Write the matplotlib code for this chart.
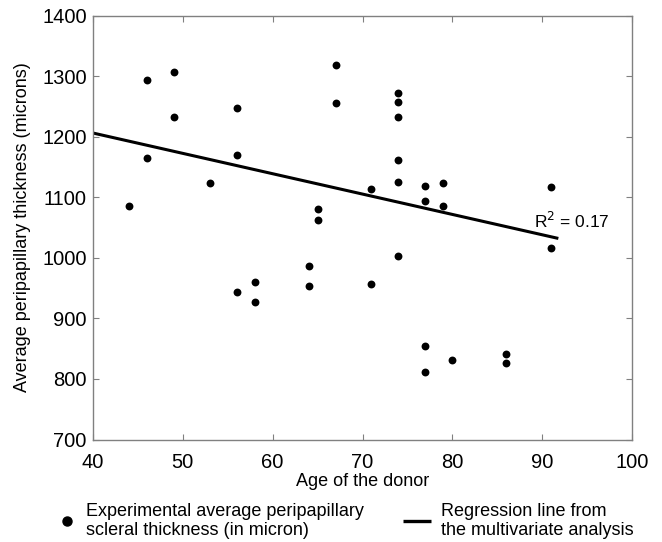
import matplotlib
matplotlib.use("Agg")
import matplotlib.pyplot as plt
from matplotlib.lines import Line2D

plt.rcParams['font.family'] = ['Liberation Sans', 'DejaVu Sans']

# Donor age (years) and measured peripapillary scleral thickness (microns)
age = [44, 46, 46, 49, 49, 53, 56, 56, 56, 58, 58, 64, 64, 65, 65, 67, 67,
       71, 71, 74, 74, 74, 74, 74, 74, 77, 77, 77, 77, 79, 79, 80, 86, 86, 91, 91]
thickness = [1086, 1294, 1165, 1306, 1232, 1123, 1248, 1169, 943, 960, 927, 986, 953,
             1080, 1062, 1319, 1256, 1114, 956, 1272, 1257, 1233, 1162, 1125, 1003,
             1119, 1094, 854, 812, 1123, 1085, 832, 841, 827, 1117, 1016]

# Regression line endpoints from the multivariate analysis
reg_age = [40, 91.8]
reg_thickness = [1206, 1032]
r_squared = 0.17

x_ticks = [40, 50, 60, 70, 80, 90, 100]
y_ticks = [700, 800, 900, 1000, 1100, 1200, 1300, 1400]

fig = plt.figure(figsize=(6.62, 5.42), dpi=100)
ax = fig.add_axes([0.1405, 0.189, 0.8142, 0.7824])

ax.plot(reg_age, reg_thickness, color='black', lw=2.2, solid_capstyle='butt', zorder=2)
ax.scatter(age, thickness, s=32, color='black', zorder=3, linewidths=0)

ax.text(89.1, 1050, f'R$^2$ = {r_squared:.2f}', fontsize=12.5, va='baseline', ha='left')

ax.set_xlim(40, 100)
ax.set_ylim(700, 1400)
ax.set_xticks(x_ticks)
ax.set_yticks(y_ticks)
ax.tick_params(direction='in', top=True, right=True, length=4, width=0.8,
               color='#808080', labelsize=14.5)
ax.tick_params(axis='x', pad=9.5)
ax.tick_params(axis='y', pad=4.5)
for s in ax.spines.values():
    s.set_color('#808080')
    s.set_linewidth(1.0)

ax.set_xlabel('Age of the donor', fontsize=13, labelpad=1)
ax.set_ylabel('Average peripapillary thickness (microns)', fontsize=13, labelpad=8)

leg1 = fig.legend([Line2D([], [], marker='o', color='black', ls='none', markersize=6.5)],
                  ['Experimental average peripapillary\nscleral thickness (in micron)'],
                  loc='center left', bbox_to_anchor=(58 / 662, 0.0387),
                  frameon=False, fontsize=13, handlelength=1.0, handletextpad=0.55,
                  borderpad=0, borderaxespad=0, labelspacing=0)
leg2 = fig.legend([Line2D([], [], color='black', lw=2.4, solid_capstyle='butt')],
                  ['Regression line from\nthe multivariate analysis'],
                  loc='center left', bbox_to_anchor=(403 / 662, 0.0387),
                  frameon=False, fontsize=13, handlelength=1.55, handletextpad=0.55,
                  borderpad=0, borderaxespad=0, labelspacing=0)

fig.savefig('out.png', dpi=100)
